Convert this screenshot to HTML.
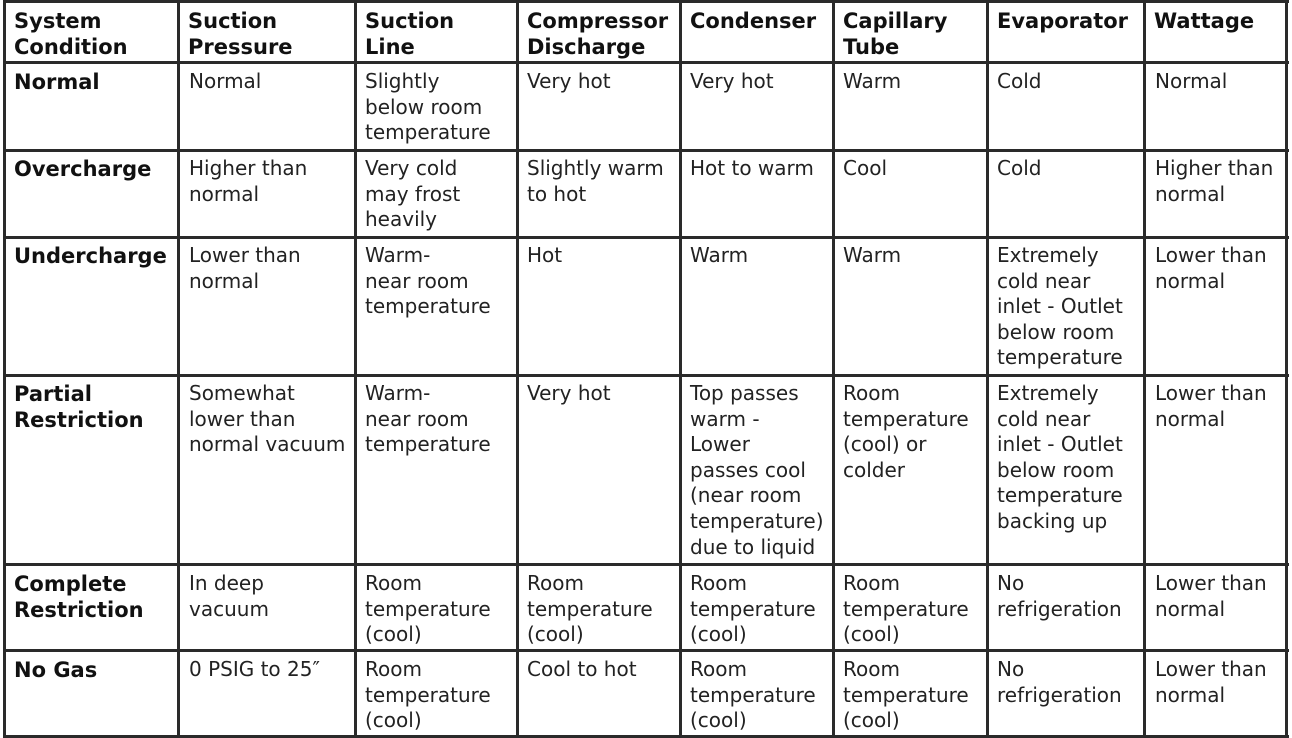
<!DOCTYPE html>
<html><head><meta charset="utf-8"><style>
html,body{margin:0;padding:0;background:#fff;}
body{width:1292px;height:738px;position:relative;overflow:hidden;font-family:"DejaVu Sans","Liberation Sans",sans-serif;}
.v{position:absolute;top:0;width:3px;height:738px;background:#2a2a2a;}
.h{position:absolute;left:3px;width:1286px;height:3px;background:#2a2a2a;}
.c{position:absolute;white-space:nowrap;font-size:20px;line-height:25.6px;color:#222;}
.b{font-weight:bold;font-size:21px;line-height:25.5px;color:#111;}
</style></head><body>
<div class="v" style="left:3px"></div>
<div class="v" style="left:177px"></div>
<div class="v" style="left:354px"></div>
<div class="v" style="left:516px"></div>
<div class="v" style="left:679px"></div>
<div class="v" style="left:832px"></div>
<div class="v" style="left:986px"></div>
<div class="v" style="left:1143px"></div>
<div class="v" style="left:1285px"></div>
<div class="h" style="top:0px"></div>
<div class="h" style="top:61px"></div>
<div class="h" style="top:149px"></div>
<div class="h" style="top:236px"></div>
<div class="h" style="top:374px"></div>
<div class="h" style="top:563px"></div>
<div class="h" style="top:649px"></div>
<div class="h" style="top:735px"></div>

<!-- header -->
<div class="c b" style="left:14px;top:9px">System<br>Condition</div>
<div class="c b" style="left:188px;top:9px">Suction<br>Pressure</div>
<div class="c b" style="left:365px;top:9px">Suction<br>Line</div>
<div class="c b" style="left:527px;top:9px">Compressor<br>Discharge</div>
<div class="c b" style="left:690px;top:9px">Condenser</div>
<div class="c b" style="left:843px;top:9px">Capillary<br>Tube</div>
<div class="c b" style="left:997px;top:9px">Evaporator</div>
<div class="c b" style="left:1154px;top:9px">Wattage</div>

<!-- Normal -->
<div class="c b" style="left:14px;top:70px">Normal</div>
<div class="c" style="left:189px;top:69px">Normal</div>
<div class="c" style="left:365px;top:69px">Slightly<br>below room<br>temperature</div>
<div class="c" style="left:527px;top:69px">Very hot</div>
<div class="c" style="left:690px;top:69px">Very hot</div>
<div class="c" style="left:843px;top:69px">Warm</div>
<div class="c" style="left:997px;top:69px">Cold</div>
<div class="c" style="left:1155px;top:69px">Normal</div>

<!-- Overcharge -->
<div class="c b" style="left:14px;top:157px">Overcharge</div>
<div class="c" style="left:189px;top:156px">Higher than<br>normal</div>
<div class="c" style="left:365px;top:156px">Very cold<br>may frost<br>heavily</div>
<div class="c" style="left:527px;top:156px">Slightly warm<br>to hot</div>
<div class="c" style="left:690px;top:156px">Hot to warm</div>
<div class="c" style="left:843px;top:156px">Cool</div>
<div class="c" style="left:997px;top:156px">Cold</div>
<div class="c" style="left:1155px;top:156px">Higher than<br>normal</div>

<!-- Undercharge -->
<div class="c b" style="left:14px;top:244px">Undercharge</div>
<div class="c" style="left:189px;top:243px">Lower than<br>normal</div>
<div class="c" style="left:365px;top:243px">Warm-<br>near room<br>temperature</div>
<div class="c" style="left:527px;top:243px">Hot</div>
<div class="c" style="left:690px;top:243px">Warm</div>
<div class="c" style="left:843px;top:243px">Warm</div>
<div class="c" style="left:997px;top:243px">Extremely<br>cold near<br>inlet - Outlet<br>below room<br>temperature</div>
<div class="c" style="left:1155px;top:243px">Lower than<br>normal</div>

<!-- Partial Restriction -->
<div class="c b" style="left:14px;top:382px">Partial<br>Restriction</div>
<div class="c" style="left:189px;top:381px">Somewhat<br>lower than<br>normal vacuum</div>
<div class="c" style="left:365px;top:381px">Warm-<br>near room<br>temperature</div>
<div class="c" style="left:527px;top:381px">Very hot</div>
<div class="c" style="left:690px;top:381px">Top passes<br>warm -<br>Lower<br>passes cool<br>(near room<br>temperature)<br>due to liquid</div>
<div class="c" style="left:843px;top:381px">Room<br>temperature<br>(cool) or<br>colder</div>
<div class="c" style="left:997px;top:381px">Extremely<br>cold near<br>inlet - Outlet<br>below room<br>temperature<br>backing up</div>
<div class="c" style="left:1155px;top:381px">Lower than<br>normal</div>

<!-- Complete Restriction -->
<div class="c b" style="left:14px;top:572px">Complete<br>Restriction</div>
<div class="c" style="left:189px;top:571px">In deep<br>vacuum</div>
<div class="c" style="left:365px;top:571px">Room<br>temperature<br>(cool)</div>
<div class="c" style="left:527px;top:571px">Room<br>temperature<br>(cool)</div>
<div class="c" style="left:690px;top:571px">Room<br>temperature<br>(cool)</div>
<div class="c" style="left:843px;top:571px">Room<br>temperature<br>(cool)</div>
<div class="c" style="left:997px;top:571px">No<br>refrigeration</div>
<div class="c" style="left:1155px;top:571px">Lower than<br>normal</div>

<!-- No Gas -->
<div class="c b" style="left:14px;top:658px">No Gas</div>
<div class="c" style="left:189px;top:657px">0 PSIG to 25″</div>
<div class="c" style="left:365px;top:657px">Room<br>temperature<br>(cool)</div>
<div class="c" style="left:527px;top:657px">Cool to hot</div>
<div class="c" style="left:690px;top:657px">Room<br>temperature<br>(cool)</div>
<div class="c" style="left:843px;top:657px">Room<br>temperature<br>(cool)</div>
<div class="c" style="left:997px;top:657px">No<br>refrigeration</div>
<div class="c" style="left:1155px;top:657px">Lower than<br>normal</div>
</body></html>
